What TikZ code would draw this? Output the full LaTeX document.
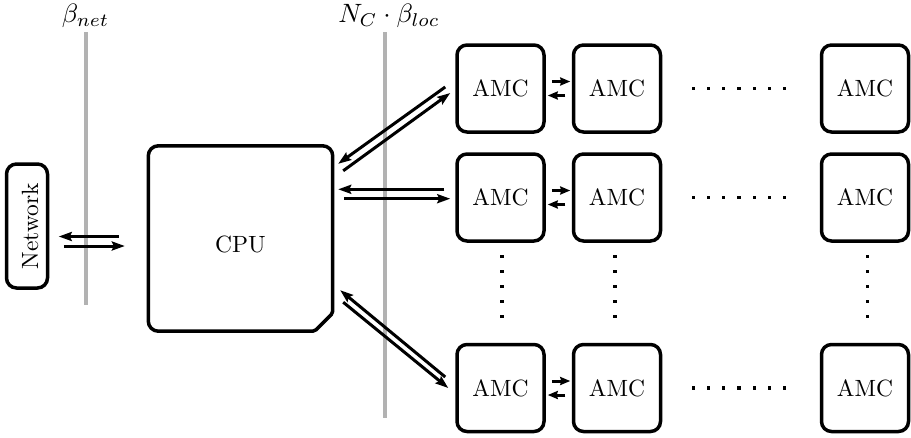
\documentclass[tikz,border=0pt]{standalone}
\usetikzlibrary{arrows.meta,calc}
\newcommand\bigtxt[1]{\scalebox{2.35}{#1}}
\newcommand\bigmath[1]{\scalebox{2.65}{#1}}
\begin{document}
\begin{tikzpicture}[x=1pt,y=-1pt,
  amc/.style={draw,line width=3.5pt,rounded corners=10pt,minimum width=87pt,minimum height=87pt,inner sep=0pt},
  netbox/.style={draw,line width=3.5pt,rounded corners=10pt,minimum width=41pt,minimum height=124pt,inner sep=0pt},
  lbl/.style={inner sep=0pt},
  arr/.style={line width=3pt,-{Stealth[length=13pt,width=9pt,inset=2pt]}},
  sarr/.style={line width=3pt,-{Stealth[length=10pt,width=8pt,inset=1pt]}},
  sep/.style={line width=3.5pt,black!30}
]
\useasboundingbox (0,0) rectangle (911,437);

% separators
\node[lbl] (bnet) at (85.5,16) {\bigmath{$\beta_{net}$}};
\node[lbl] (bloc) at (389,16) {\bigmath{$N_C\cdot\beta_{loc}$}};
\draw[sep] (86,32) -- (86,305);
\draw[sep] (385,32) -- (385,418);

% network
\node[netbox] (net) at (27,226) {};
\node[lbl,rotate=90] at (30,226) {\bigtxt{Network}};

% CPU
\node[minimum width=184pt,minimum height=185pt,inner sep=0pt] (cpu) at (240.5,238.5) {};
\node[lbl] at (240.5,244) {\bigtxt{CPU}};
\draw[line width=3.5pt,rounded corners=10pt]
  (cpu.west) -- (cpu.north west) -- (cpu.north east)
  [rounded corners=2pt] -- ([shift={(0,-18)}]cpu.south east)
  -- ([shift={(-18,0)}]cpu.south east)
  [rounded corners=10pt] -- (cpu.south west) -- cycle;

% AMC grid
\foreach \r/\y in {1/88.5,2/197.5,3/388}{
  \node[amc] (a\r1) at (500.5,\y) {\bigtxt{AMC}};
  \node[amc] (a\r2) at (617,\y) {\bigtxt{AMC}};
  \node[amc] (a\r3) at (865,\y) {\bigtxt{AMC}};
  \draw[sarr] ([shift={(6,-7)}]a\r1.east) -- ([shift={(-1.5,-7)}]a\r2.west);
  \draw[sarr] ([shift={(-6.5,7)}]a\r2.west) -- ([shift={(2,7)}]a\r1.east);
  \foreach \k in {0,...,6}{
    \fill ($(a\r2.east)+(31.2+15.2*\k,0)$) ++(-1.6,-1.6) rectangle ++(3.2,3.2);
  }
}
% vertical dots
\foreach \x in {502,615,867.5}{
  \foreach \k in {0,...,4}{
    \fill (\x-1.6,256.7+15*\k-1.6) rectangle ++(3.2,3.2);
  }
}

% network <-> CPU
\draw[arr] ([shift={(-29.5,-2)}]cpu.west) -- ([shift={(9.5,10.5)}]net.east);
\draw[arr] ([shift={(14.5,20)}]net.east) -- ([shift={(-23.5,7.5)}]cpu.west);

% CPU <-> row 1
\draw[arr] ([shift={(-10,-1.5)}]a11.west) -- ([shift={(5.5,18)}]cpu.north east);
\draw[arr] ([shift={(10.5,25)}]cpu.north east) -- ([shift={(-5,4.5)}]a11.west);
% CPU <-> row 2
\draw[arr] ([shift={(-11,-8.2)}]a21.west) -- ([shift={(5.5,-49.2)}]cpu.east);
\draw[arr] ([shift={(11.5,-39.8)}]cpu.east) -- ([shift={(-5,1.2)}]a21.west);
% CPU <-> row 3
\draw[arr] ([shift={(-10,-11)}]a31.west) -- ([shift={(7.5,-41)}]cpu.south east);
\draw[arr] ([shift={(10.5,-29)}]cpu.south east) -- ([shift={(-7,0)}]a31.west);
\end{tikzpicture}
\end{document}
